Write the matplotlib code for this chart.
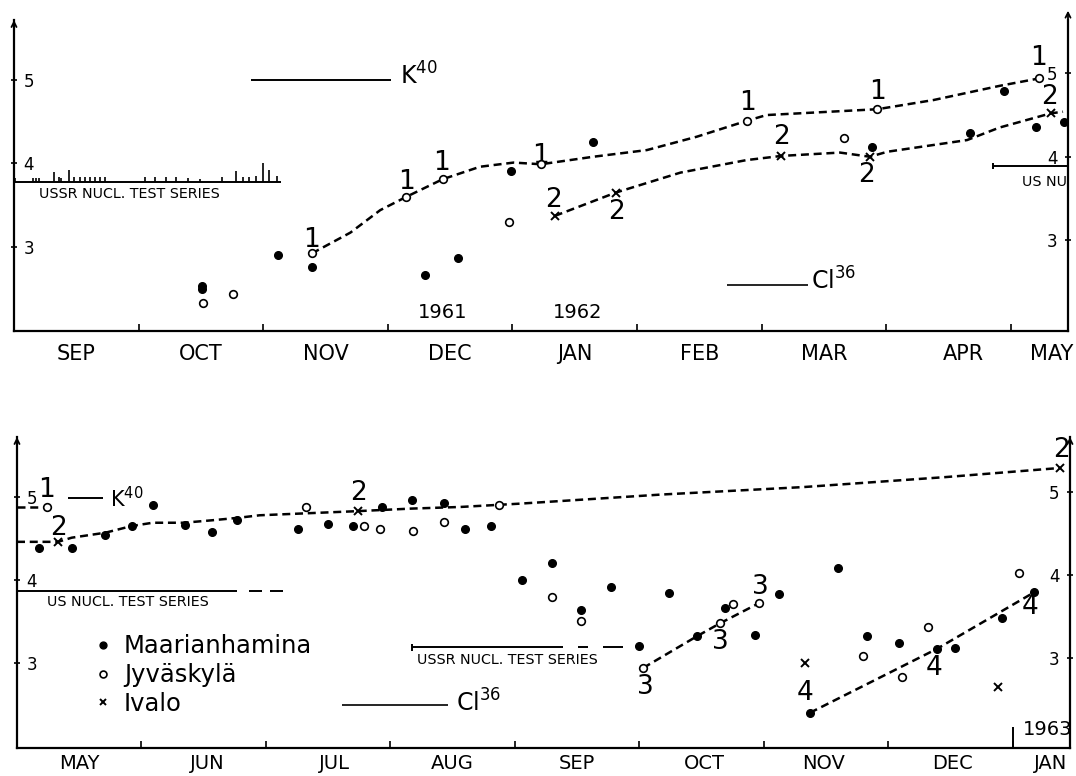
import matplotlib
matplotlib.use('Agg')
import matplotlib.pyplot as plt

plt.rcParams['font.family'] = ['DejaVu Sans']
NARROW = ['Liberation Sans Narrow', 'DejaVu Sans']

# x = months since the start of each panel (top: 1 Sep 1961, bottom: 1 May 1962)
top_months = ['SEP', 'OCT', 'NOV', 'DEC', 'JAN', 'FEB', 'MAR', 'APR', 'MAY']
top_month_pos = [0.5, 1.5, 2.5, 3.5, 4.5, 5.5, 6.5, 7.62, 8.33]
bot_months = ['MAY', 'JUN', 'JUL', 'AUG', 'SEP', 'OCT', 'NOV', 'DEC', 'JAN']
bot_month_pos = [0.5, 1.53, 2.55, 3.5, 4.5, 5.52, 6.48, 7.52, 8.3]

# top panel
top_maar_x = [1.51, 1.51, 2.12, 2.39, 3.30, 3.56, 3.99, 4.65, 6.89, 7.67, 7.95, 8.20, 8.43]
top_maar_y = [2.53, 2.49, 2.90, 2.76, 2.66, 2.87, 3.91, 4.26, 4.20, 4.37, 4.87, 4.44, 4.50]
top_jyv_x = [1.52, 1.76, 2.39, 3.15, 3.44, 3.97, 4.23, 5.88, 6.66, 6.93, 8.23]
top_jyv_y = [2.33, 2.43, 2.92, 3.60, 3.81, 3.30, 3.99, 4.51, 4.31, 4.65, 5.02]
top_iva_x = [4.34, 4.83, 6.16, 6.87, 8.32]
top_iva_y = [3.37, 3.65, 4.09, 4.08, 4.60]

top_c1_x = [2.39, 2.70, 2.94, 3.15, 3.44, 3.74, 4.01, 4.23, 4.65, 5.08, 5.48, 5.88, 6.04, 6.93, 7.38, 7.91, 8.23]
top_c1_y = [2.92, 3.17, 3.44, 3.60, 3.81, 3.96, 4.01, 3.99, 4.08, 4.16, 4.32, 4.51, 4.58, 4.65, 4.76, 4.93, 5.02]
top_c2_x = [4.34, 4.83, 5.35, 5.88, 6.16, 6.63, 6.87, 7.01, 7.65, 7.91, 8.32, 8.42]
top_c2_y = [3.37, 3.65, 3.89, 4.04, 4.09, 4.13, 4.08, 4.14, 4.28, 4.43, 4.60, 4.62]

top_lab_txt = ['1', '1', '1', '1', '1', '1', '1', '2', '2', '2', '2', '2']
top_lab_x = [2.39, 3.15, 3.43, 4.23, 5.89, 6.93, 8.22, 4.33, 4.84, 6.16, 6.84, 8.31]
top_lab_y = [3.08, 3.78, 4.01, 4.09, 4.72, 4.86, 5.26, 3.56, 3.42, 4.32, 3.86, 4.80]

ussr_x = [0.01, 0.15, 0.18, 0.20, 0.32, 0.36, 0.38, 0.44, 0.48, 0.53, 0.57, 0.61, 0.65, 0.69, 0.73,
          1.05, 1.13, 1.22, 1.30, 1.40, 1.49, 1.67, 1.78, 1.84, 1.89, 1.94, 2.00, 2.05, 2.11]
ussr_h = [0.05, 0.05, 0.05, 0.05, 0.12, 0.06, 0.05, 0.14, 0.06, 0.06, 0.06, 0.06, 0.06, 0.06, 0.06,
          0.06, 0.06, 0.06, 0.06, 0.05, 0.03, 0.06, 0.13, 0.06, 0.06, 0.07, 0.23, 0.14, 0.07]

# bottom panel
bot_maar_x = [0.18, 0.44, 0.71, 0.92, 1.09, 1.35, 1.57, 1.77, 2.26, 2.50, 2.70, 2.93, 3.17, 3.43, 3.60,
              3.81, 4.06, 4.30, 4.53, 4.77, 5.00, 5.24, 5.46, 5.69, 5.93, 6.12, 6.37, 6.60, 6.83, 7.09,
              7.39, 7.54, 7.91, 8.17]
bot_maar_y = [4.39, 4.39, 4.54, 4.65, 4.90, 4.66, 4.58, 4.72, 4.61, 4.67, 4.65, 4.88, 4.97, 4.93, 4.62,
              4.65, 4.00, 4.21, 3.64, 3.91, 3.20, 3.84, 3.32, 3.66, 3.34, 3.83, 2.40, 4.15, 3.33, 3.24,
              3.17, 3.18, 3.54, 3.85]
bot_jyv_x = [0.24, 2.32, 2.79, 2.92, 3.18, 3.43, 3.87, 4.30, 4.53, 5.03, 5.65, 5.75, 5.96, 6.80, 7.11, 7.32, 8.05]
bot_jyv_y = [4.88, 4.88, 4.65, 4.62, 4.59, 4.70, 4.90, 3.80, 3.51, 2.94, 3.48, 3.71, 3.72, 3.08, 2.83, 3.43, 4.08]
bot_iva_x = [0.33, 2.74, 6.33, 7.88, 8.38]
bot_iva_y = [4.46, 4.83, 3.00, 2.71, 5.35]

bot_c1_x = [0.0, 0.24]
bot_c1_y = [4.88, 4.88]
bot_c2_x = [0.0, 0.33, 0.44, 0.71, 0.92, 1.09, 1.34, 1.57, 1.78, 1.95, 2.74, 3.16, 3.56, 4.04, 5.18, 6.32, 7.46, 8.38]
bot_c2_y = [4.46, 4.46, 4.51, 4.57, 4.65, 4.69, 4.69, 4.72, 4.75, 4.78, 4.83, 4.86, 4.88, 4.92, 5.03, 5.12, 5.24, 5.35]
bot_c3_x = [5.03, 5.46, 5.65, 5.96]
bot_c3_y = [2.94, 3.32, 3.48, 3.72]
bot_c4_x = [6.37, 7.39, 8.17]
bot_c4_y = [2.40, 3.17, 3.85]

bot_lab_txt = ['1', '2', '2', '2', '3', '3', '3', '4', '4', '4']
bot_lab_x = [0.24, 0.33, 2.74, 8.39, 5.05, 5.65, 5.97, 6.33, 7.37, 8.14]
bot_lab_y = [5.08, 4.63, 5.05, 5.57, 2.71, 3.25, 3.92, 2.64, 2.94, 3.67]

XMAX = 8.46
DASH = (3.2, 1.9)


def style_axes(ax, ylim, right_shift, month_pos, month_names, right_top=1.0, label_pad=9, label_size=15):
    ax.set_xlim(0, XMAX)
    ax.set_ylim(*ylim)
    ax.spines['top'].set_visible(False)
    ax.spines['right'].set_visible(False)
    for s in ('left', 'bottom'):
        ax.spines[s].set_linewidth(1.6)
    ax.set_xticks(range(0, 9))
    ax.set_xticks(month_pos, minor=True)
    ax.set_xticklabels(month_names, minor=True)
    ax.tick_params(axis='x', which='major', direction='in', length=5, width=1.2, labelbottom=False)
    ax.tick_params(axis='x', which='minor', length=0, pad=label_pad, labelsize=label_size)
    ax.set_yticks([3, 4, 5])
    ax.set_yticklabels(['3', '4', '5'], family=NARROW)
    ax.tick_params(axis='y', direction='inout', length=5, width=1.2, pad=-9.5, labelsize=12)
    for lab in ax.get_yticklabels():
        lab.set_horizontalalignment('left')

    axr = ax.twinx()
    axr.set_ylim(ylim[0] - right_shift, ylim[1] - right_shift)
    for s in ('top', 'left', 'bottom'):
        axr.spines[s].set_visible(False)
    axr.spines['right'].set_linewidth(1.6)
    axr.set_yticks([3, 4, 5])
    axr.set_yticklabels(['3', '4', '5'], family=NARROW)
    axr.tick_params(axis='y', direction='inout', length=5, width=1.2, pad=-10, labelsize=12)
    for lab in axr.get_yticklabels():
        lab.set_horizontalalignment('right')

    arrow = dict(arrowstyle='->', lw=1.3, color='k', shrinkA=0, shrinkB=0, mutation_scale=9)
    ax.annotate('', xy=(0, 1.0), xytext=(0, 0.94), xycoords='axes fraction', arrowprops=arrow)
    ax.annotate('', xy=(1, right_top), xytext=(1, 0.94), xycoords='axes fraction', arrowprops=arrow)


def plot_points(ax, mx, my, jx, jy, ix, iy, labels=False):
    kw = dict(ls='none', ms=5.5, zorder=4)
    ax.plot(mx, my, 'o', color='k', label='Maarianhamina' if labels else None, **kw)
    ax.plot(jx, jy, 'o', mfc='white', mec='k', mew=1.2, label='Jyväskylä' if labels else None, **kw)
    ax.plot(ix, iy, 'x', color='k', mew=1.4, label='Ivalo' if labels else None, **kw)


def dashed(ax, x, y):
    ax.plot(x, y, color='k', lw=1.8, ls=(0, DASH), zorder=3)


fig = plt.figure(figsize=(10.76, 7.76), dpi=100)
ax1 = fig.add_axes([0.01301, 0.57345, 0.97955, 0.40077])
ax2 = fig.add_axes([0.0158, 0.03608, 0.97862, 0.40077])

# ---- top panel
style_axes(ax1, (1.99, 5.72), 0.08, top_month_pos, top_months, right_top=1.03)
dashed(ax1, top_c1_x, top_c1_y)
dashed(ax1, top_c2_x, top_c2_y)
plot_points(ax1, top_maar_x, top_maar_y, top_jyv_x, top_jyv_y, top_iva_x, top_iva_y)
for t, x, y in zip(top_lab_txt, top_lab_x, top_lab_y):
    ax1.text(x, y, t, fontsize=19, family=NARROW, ha='center', va='center')

ax1.hlines(5.0, 1.90, 3.03, color='k', lw=1.4)
ax1.text(3.10, 4.94, r'K$^{\mathregular{40}}$', fontsize=17, ha='left', va='baseline')
ax1.hlines(2.54, 5.72, 6.37, color='k', lw=1.2)
ax1.text(6.40, 2.49, r'Cl$^{\mathregular{36}}$', fontsize=17, ha='left', va='baseline')

ax1.hlines(3.78, 0, 2.14, color='k', lw=1.4)
ax1.vlines(ussr_x, 3.78, [3.78 + h for h in ussr_h], color='k', lw=1.2)
ax1.text(0.20, 3.63, 'USSR NUCL. TEST SERIES', fontsize=10.3, ha='left', va='center')

# the reference shows this label truncated at the right axis
ax1.hlines(3.97, 7.86, XMAX, color='k', lw=1.4)
ax1.vlines(7.86, 3.93, 4.01, color='k', lw=1.4)
ax1.text(8.09, 3.78, 'US NU', fontsize=10.3, ha='left', va='center')

ax1.text(3.44, 2.21, '1961', fontsize=14, family=NARROW, ha='center', va='center')
ax1.text(4.52, 2.21, '1962', fontsize=14, family=NARROW, ha='center', va='center')

# ---- bottom panel
style_axes(ax2, (1.976, 5.723), 0.06, bot_month_pos, bot_months, label_pad=4, label_size=14)
for cx, cy in [(bot_c1_x, bot_c1_y), (bot_c2_x, bot_c2_y), (bot_c3_x, bot_c3_y), (bot_c4_x, bot_c4_y)]:
    dashed(ax2, cx, cy)
plot_points(ax2, bot_maar_x, bot_maar_y, bot_jyv_x, bot_jyv_y, bot_iva_x, bot_iva_y, labels=True)
for t, x, y in zip(bot_lab_txt, bot_lab_x, bot_lab_y):
    ax2.text(x, y, t, fontsize=19, family=NARROW, ha='center', va='center')

ax2.hlines(4.99, 0.41, 0.69, color='k', lw=1.4)
ax2.text(0.75, 4.88, r'K$^{\mathregular{40}}$', fontsize=15, ha='left', va='baseline')
ax2.hlines(2.49, 2.61, 3.46, color='k', lw=1.2)
ax2.text(3.53, 2.41, r'Cl$^{\mathregular{36}}$', fontsize=17, ha='left', va='baseline')

ax2.hlines(3.87, 0, 1.77, color='k', lw=1.4)
ax2.hlines([3.87, 3.87], [1.86, 2.03], [1.97, 2.14], color='k', lw=1.4)
ax2.text(0.245, 3.73, 'US NUCL. TEST SERIES', fontsize=10.3, ha='left', va='center')

ax2.hlines(3.19, 3.17, 4.39, color='k', lw=1.4)
ax2.vlines(3.17, 3.15, 3.23, color='k', lw=1.4)
ax2.hlines([3.19, 3.19], [4.51, 4.71], [4.59, 4.87], color='k', lw=1.4)
ax2.text(3.21, 3.04, 'USSR NUCL. TEST SERIES', fontsize=10.3, ha='left', va='center')

ax2.vlines(8.0, 1.976, 2.23, color='k', lw=1.4)
ax2.text(8.08, 2.20, '1963', fontsize=14, family=NARROW, ha='left', va='center')

ax2.legend(loc='upper left', bbox_to_anchor=(0.075, 0.366), frameon=False, fontsize=17.5,
           handlelength=0.6, handletextpad=0.55, labelspacing=0.2, borderpad=0, borderaxespad=0,
           markerscale=0.9)

fig.savefig('out.png', dpi=100, facecolor='white')
